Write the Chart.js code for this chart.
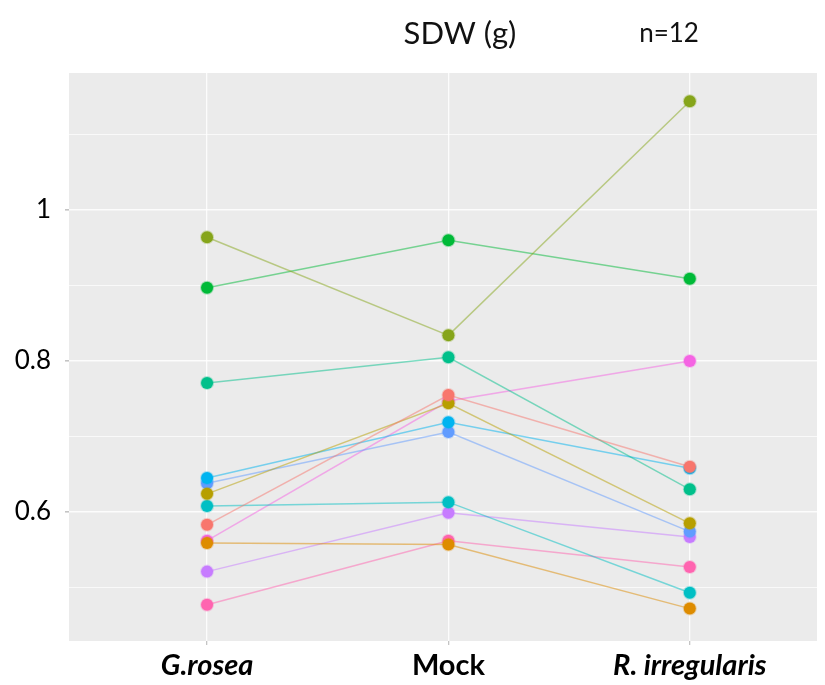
<!DOCTYPE html>
<html>
<head>
<meta charset="utf-8">
<script src="https://cdn.jsdelivr.net/npm/chart.js@4/dist/chart.umd.min.js"></script>
<style>
  html, body { margin: 0; padding: 0; background: #fff; }
  #wrap { width: 825px; height: 685px; }
</style>
</head>
<body>
<div id="wrap"><canvas id="sdwChart" width="825" height="685"></canvas></div>
<script>
// groups on the x axis
const groups = ['G.rosea', 'Mock', 'R. irregularis'];

// one value per plant (12 plants), same order in each array
const gRosea       = [0.583, 0.559, 0.624, 0.964, 0.897, 0.771, 0.608, 0.645, 0.638, 0.521, 0.562, 0.477];
const mock         = [0.755, 0.557, 0.744, 0.834, 0.960, 0.805, 0.613, 0.719, 0.706, 0.599, 0.747, 0.562];
const rIrregularis = [0.660, 0.472, 0.585, 1.144, 0.909, 0.630, 0.493, 0.658, 0.574, 0.567, 0.800, 0.527];

// y ticks that get a label
const yLabels = [0.6, 0.8, 1.0];

// ggplot default hue palette for 12 levels (olive a little muted as in the picture)
const plantColors = ['#F8766D', '#DE8C00', '#B79F00', '#86A51A', '#00BA38', '#00C08B',
                     '#00BFC4', '#00B4F0', '#619CFF', '#C77CFF', '#F564E3', '#FF64B0'];

function hexAlpha(hex, a) {
  const n = parseInt(hex.slice(1), 16);
  return `rgba(${(n >> 16) & 255},${(n >> 8) & 255},${n & 255},${a})`;
}

// lines first (drawn underneath), points on top like geom_line + geom_point
const datasets = [];
plantColors.forEach((c, i) => {
  const pts = [gRosea[i], mock[i], rIrregularis[i]].map((v, k) => ({ x: k + 1, y: v }));
  datasets.push({
    data: pts,
    showLine: true,
    borderColor: hexAlpha(c, 0.5),
    borderWidth: 1.5,
    pointRadius: 0,
    order: 2
  });
  datasets.push({
    data: pts,
    showLine: false,
    backgroundColor: c,
    borderColor: hexAlpha(c, 0.3),
    borderWidth: 2,
    pointRadius: 6,
    order: 1
  });
});

// grey panel background
const panelBg = {
  id: 'panelBg',
  beforeDraw(chart) {
    const { ctx, chartArea: a } = chart;
    ctx.save();
    ctx.fillStyle = '#EBEBEB';
    ctx.fillRect(a.left, a.top, a.right - a.left, a.bottom - a.top);
    ctx.restore();
  }
};

// title texts
const titles = {
  id: 'titles',
  afterDraw(chart) {
    const ctx = chart.ctx;
    ctx.save();
    ctx.fillStyle = '#111';
    ctx.textAlign = 'center';
    ctx.textBaseline = 'middle';
    ctx.font = '31px Lato';
    ctx.fillText('SDW (g)', 460, 34);
    ctx.font = '26px Lato';
    ctx.fillText('n=12', 669, 34);
    ctx.restore();
  }
};

const isMajor = v => yLabels.some(t => Math.abs(t - v) < 1e-6);

new Chart(document.getElementById('sdwChart'), {
  type: 'scatter',
  data: { datasets },
  plugins: [panelBg, titles],
  options: {
    responsive: false,
    animation: false,
    events: [],
    layout: { padding: { top: 73, right: 3, left: 0, bottom: 0 } },
    plugins: { legend: { display: false }, tooltip: { enabled: false } },
    scales: {
      x: {
        type: 'linear',
        min: 0.428,
        max: 3.527,
        afterBuildTicks: s => { s.ticks = groups.map((g, i) => ({ value: i + 1 })); },
        afterFit: s => { s.height = 44; },
        border: { display: false },
        grid: { color: 'rgba(255,255,255,0.85)', lineWidth: 1.3, tickColor: '#c4c4c4', tickLength: 4 },
        ticks: {
          color: '#000',
          padding: 3,
          maxRotation: 0,
          callback: v => groups[v - 1],
          font: c => ({
            family: 'Lato',
            size: 29,
            weight: 'bold',
            style: groups[c.index] === 'Mock' ? 'normal' : 'italic'
          })
        }
      },
      y: {
        min: 0.4291,
        max: 1.1815,
        afterBuildTicks: s => {
          const t = [];
          for (let v = 0.5; v <= 1.1 + 1e-6; v += 0.1) t.push({ value: Math.round(v * 10) / 10 });
          s.ticks = t;
        },
        afterFit: s => { s.width = 69; },
        border: { display: false },
        grid: {
          color: 'rgba(255,255,255,0.85)',
          lineWidth: c => isMajor(c.tick.value) ? 1.6 : 0.8,
          tickColor: c => isMajor(c.tick.value) ? '#c4c4c4' : 'rgba(0,0,0,0)',
          tickLength: 4
        },
        ticks: {
          color: '#000',
          padding: 14,
          font: { family: 'Lato', size: 26 },
          callback: v => isMajor(v) ? String(Math.round(v * 10) / 10) : ''
        }
      }
    }
  }
});
</script>
</body>
</html>
